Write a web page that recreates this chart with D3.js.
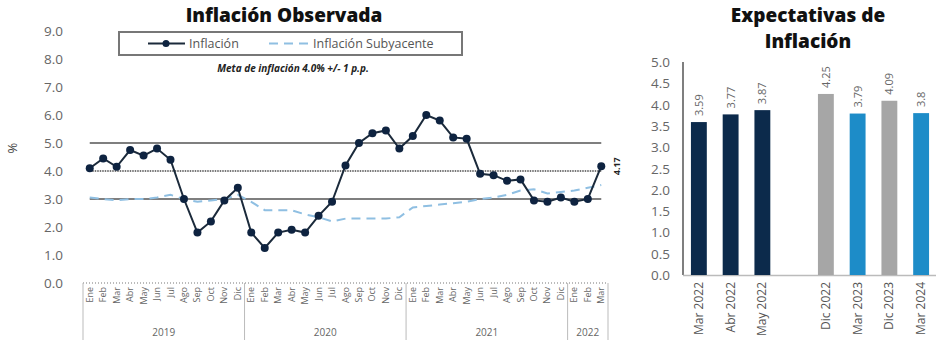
<html lang="es">
<head>
  <meta charset="utf-8">
  <title>Inflación Observada / Expectativas de Inflación</title>
  <script src="https://d3js.org/d3.v7.min.js"></script>
  <style>
    html, body { margin: 0; padding: 0; background: #fff; overflow: hidden; }
    svg { display: block; font-family: "Open Sans", "Noto Sans", sans-serif; }
  </style>
</head>
<body>
<svg width="936" height="349"></svg>
<script>
  // ---- data: observed inflation ----
  const months = ["Ene","Feb","Mar","Abr","May","Jun","Jul","Ago","Sep","Oct","Nov","Dic"];
  const years = ["2019", "2020", "2021", "2022"];
  const monthsPerYear = [12, 12, 12, 3];
  const inflacion = [4.1, 4.45, 4.15, 4.75, 4.55, 4.8, 4.4, 3.0, 1.8, 2.2, 2.95, 3.4,
                     1.8, 1.25, 1.8, 1.9, 1.8, 2.4, 2.9, 4.2, 5.0, 5.35, 5.45, 4.8,
                     5.25, 6.0, 5.8, 5.2, 5.15, 3.9, 3.85, 3.65, 3.7, 2.95, 2.9, 3.05,
                     2.9, 3.0, 4.17];
  const subyacente = [3.05, 3.0, 2.95, 3.0, 3.0, 3.05, 3.15, 3.0, 2.9, 2.95, 3.0, 3.15,
                      2.9, 2.6, 2.6, 2.6, 2.45, 2.35, 2.2, 2.3, 2.3, 2.3, 2.3, 2.35,
                      2.7, 2.75, 2.8, 2.85, 2.9, 3.0, 3.05, 3.15, 3.3, 3.35, 3.2, 3.25,
                      3.3, 3.4, 3.5];
  const metaLines = [5, 4, 3];
  const yTicksLeft = [0, 1, 2, 3, 4, 5, 6, 7, 8, 9];

  // ---- data: expectations ----
  const expCats = ["Mar 2022", "Abr 2022", "May 2022", "", "Dic 2022", "Mar 2023", "Dic 2023", "Mar 2024"];
  const expValues = [3.59, 3.77, 3.87, null, 4.25, 3.79, 4.09, 3.8];
  const expLabels = ["3.59", "3.77", "3.87", "", "4.25", "3.79", "4.09", "3.8"];
  const expColors = ["#0c2a4b", "#0c2a4b", "#0c2a4b", null, "#a6a6a6", "#1d8cc8", "#a6a6a6", "#1d8cc8"];
  const yTicksRight = d3.range(0, 5.01, 0.5);

  const svg = d3.select("svg");
  const grey = "#666";

  // ================= left chart =================
  const cats = [];
  years.forEach((yr, i) => {
    for (let m = 0; m < monthsPerYear[i]; m++) cats.push({ key: yr + "-" + m, month: months[m], year: yr });
  });

  const x = d3.scaleBand().domain(cats.map(d => d.key)).range([83, 608]);
  const y = d3.scaleLinear().domain([0, 9]).range([283, 31]);
  const cx = i => x(cats[i].key) + x.bandwidth() / 2;

  svg.append("text")
    .attr("x", 284).attr("y", 22)
    .attr("text-anchor", "middle")
    .attr("font-size", 19).attr("font-weight", 800).attr("fill", "#111")
    .text("Inflación Observada");

  // y tick labels
  svg.append("g").selectAll("text")
    .data(yTicksLeft).join("text")
    .attr("x", 63).attr("y", d => y(d) + 5)
    .attr("text-anchor", "end")
    .attr("font-size", 13.5).attr("fill", grey)
    .text(d => d3.format(".1f")(d));

  svg.append("text")
    .attr("transform", "translate(17,148) rotate(-90)")
    .attr("text-anchor", "middle")
    .attr("font-size", 13).attr("fill", "#444")
    .text("%");

  // x axis (dotted baseline)
  svg.append("line")
    .attr("x1", 83).attr("x2", 608).attr("y1", 283).attr("y2", 283)
    .attr("stroke", "#bbb").attr("stroke-width", 2).attr("stroke-dasharray", "1,2");

  svg.append("g").selectAll("text")
    .data(cats).join("text")
    .attr("transform", (d, i) => `translate(${cx(i) + 3},287) rotate(-90)`)
    .attr("text-anchor", "end")
    .attr("font-size", 9).attr("fill", grey)
    .text(d => d.month);

  // year groups
  let start = 0;
  const bounds = [0];
  monthsPerYear.forEach(n => { start += n; bounds.push(start); });
  svg.append("g").selectAll("line")
    .data(bounds).join("line")
    .attr("x1", i => i < cats.length ? x(cats[i].key) : x.range()[1])
    .attr("x2", i => i < cats.length ? x(cats[i].key) : x.range()[1])
    .attr("y1", 283).attr("y2", 340)
    .attr("stroke", "#bbb").attr("stroke-width", 1);
  svg.append("g").selectAll("text")
    .data(years).join("text")
    .attr("x", (d, i) => {
      const a = x(cats[bounds[i]].key);
      const b = bounds[i + 1] < cats.length ? x(cats[bounds[i + 1]].key) : x.range()[1];
      return (a + b) / 2;
    })
    .attr("y", 336)
    .attr("text-anchor", "middle")
    .attr("font-size", 10).attr("fill", grey)
    .text(d => d);

  // target band lines
  svg.append("g").selectAll("line")
    .data(metaLines).join("line")
    .attr("x1", cx(0)).attr("x2", cx(cats.length - 1))
    .attr("y1", d => y(d)).attr("y2", d => y(d))
    .attr("stroke", d => d === 4 ? "#777" : "#555")
    .attr("stroke-width", d => d === 4 ? 2 : 1.5)
    .attr("stroke-dasharray", d => d === 4 ? "1.5,1" : null);

  // subyacente
  svg.append("path")
    .datum(subyacente)
    .attr("fill", "none")
    .attr("stroke", "#8fbfe2").attr("stroke-width", 2)
    .attr("stroke-dasharray", "9,6")
    .attr("d", d3.line().x((d, i) => cx(i)).y(d => y(d)));

  // inflacion
  svg.append("path")
    .datum(inflacion)
    .attr("fill", "none")
    .attr("stroke", "#1b2a3b").attr("stroke-width", 2)
    .attr("d", d3.line().x((d, i) => cx(i)).y(d => y(d)));
  svg.append("g").selectAll("circle")
    .data(inflacion).join("circle")
    .attr("cx", (d, i) => cx(i)).attr("cy", d => y(d))
    .attr("r", 4).attr("fill", "#0e2340");

  const last = inflacion.length - 1;
  svg.append("text")
    .attr("transform", `translate(${cx(last) + 19},${y(inflacion[last])}) rotate(-90)`)
    .attr("text-anchor", "middle")
    .attr("font-size", 9).attr("font-weight", "bold").attr("fill", "#222")
    .text(d3.format(".2f")(inflacion[last]));

  // legend
  svg.append("rect")
    .attr("x", 119).attr("y", 32).attr("width", 343).attr("height", 23)
    .attr("fill", "#fff").attr("stroke", "#777").attr("stroke-width", 2);
  svg.append("line")
    .attr("x1", 148).attr("x2", 185).attr("y1", 43.5).attr("y2", 43.5)
    .attr("stroke", "#1b2a3b").attr("stroke-width", 2);
  svg.append("circle").attr("cx", 166).attr("cy", 43.5).attr("r", 3.5).attr("fill", "#0e2340");
  svg.append("text").attr("x", 189).attr("y", 48)
    .attr("font-size", 12.5).attr("fill", "#555").text("Inflación");
  svg.append("line")
    .attr("x1", 269).attr("x2", 311).attr("y1", 43.5).attr("y2", 43.5)
    .attr("stroke", "#8fbfe2").attr("stroke-width", 2).attr("stroke-dasharray", "9,6");
  svg.append("text").attr("x", 313).attr("y", 48)
    .attr("font-size", 12.5).attr("fill", "#555").text("Inflación Subyacente");

  svg.append("text")
    .attr("x", 293).attr("y", 72)
    .attr("text-anchor", "middle")
    .attr("font-size", 10).attr("font-weight", "bold").attr("font-style", "italic").attr("fill", "#222")
    .text("Meta de inflación 4.0% +/- 1 p.p.");

  // ================= right chart =================
  const xr = d3.scaleBand().domain(expCats).range([683, 937]).paddingInner(0.5).paddingOuter(0.25);
  const yr = d3.scaleLinear().domain([0, 5]).range([275, 62]);

  svg.append("text")
    .attr("x", 808).attr("y", 22)
    .attr("text-anchor", "middle")
    .attr("font-size", 19).attr("font-weight", 800).attr("fill", "#111")
    .text("Expectativas de");
  svg.append("text")
    .attr("x", 808).attr("y", 48)
    .attr("text-anchor", "middle")
    .attr("font-size", 19).attr("font-weight", 800).attr("fill", "#111")
    .text("Inflación");

  svg.append("g").selectAll("text")
    .data(yTicksRight).join("text")
    .attr("x", 670).attr("y", d => yr(d) + 5)
    .attr("text-anchor", "end")
    .attr("font-size", 13.5).attr("fill", grey)
    .text(d => d3.format(".1f")(d));

  svg.append("line")
    .attr("x1", 683).attr("x2", 683).attr("y1", 62).attr("y2", 275)
    .attr("stroke", "#555").attr("stroke-width", 1.5);
  svg.append("line")
    .attr("x1", 683).attr("x2", 936).attr("y1", 275.5).attr("y2", 275.5)
    .attr("stroke", "#bbb").attr("stroke-width", 1.5);

  const bars = expCats.map((c, i) => ({ cat: c, v: expValues[i], label: expLabels[i], color: expColors[i] }))
    .filter(d => d.v !== null);

  svg.append("g").selectAll("rect")
    .data(bars).join("rect")
    .attr("x", d => xr(d.cat)).attr("width", xr.bandwidth())
    .attr("y", d => yr(d.v)).attr("height", d => yr(0) - yr(d.v))
    .attr("fill", d => d.color);

  svg.append("g").selectAll("text")
    .data(bars).join("text")
    .attr("transform", d => `translate(${xr(d.cat) + xr.bandwidth() / 2 + 4},${yr(d.v) - 6}) rotate(-90)`)
    .attr("font-size", 11).attr("fill", grey)
    .text(d => d.label);

  svg.append("g").selectAll("text")
    .data(bars).join("text")
    .attr("transform", d => `translate(${xr(d.cat) + xr.bandwidth() / 2 + 4},282) rotate(-90)`)
    .attr("text-anchor", "end")
    .attr("font-size", 12).attr("fill", "#555")
    .text(d => d.cat);
</script>
</body>
</html>
